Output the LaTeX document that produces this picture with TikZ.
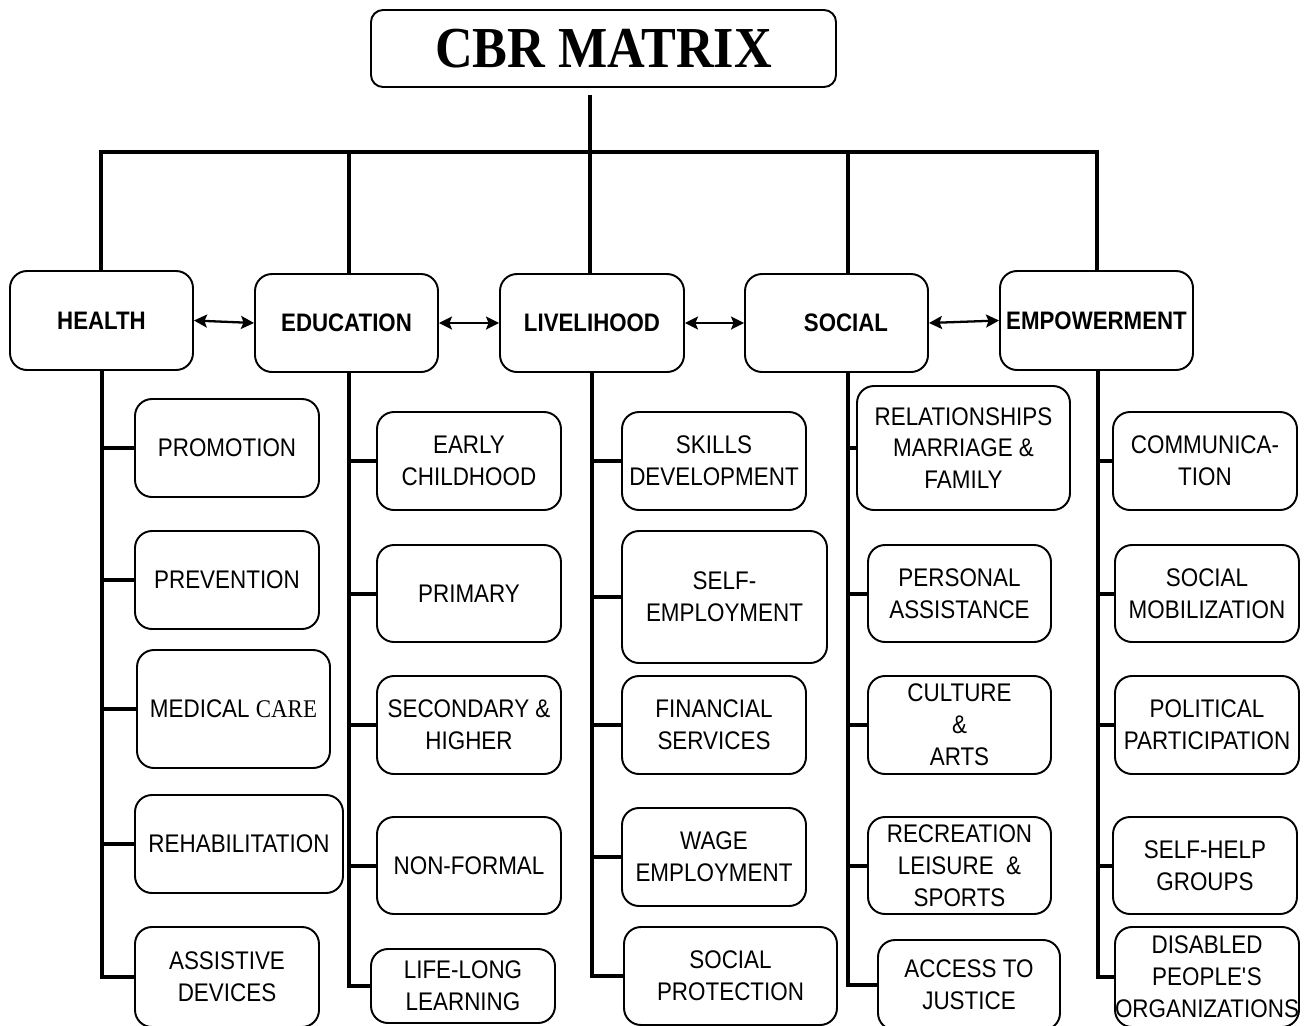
\documentclass[tikz,border=0pt]{standalone}
\usepackage{fontspec}
\setmainfont{Liberation Sans}[FakeStretch=0.88]
\newfontfamily\timesfont{Liberation Serif}[FakeStretch=0.9]
\usetikzlibrary{arrows.meta}
\begin{document}
\begin{tikzpicture}[x=0.02cm,y=-0.02cm,
  box/.style={draw, line width=1.1pt, rounded corners=0.34cm, inner sep=0pt, align=center, font=\fontsize{14.5}{18.1}\selectfont},
  sz/.style 2 args={minimum width=#1*0.02cm, minimum height=#2*0.02cm},
  mainbox/.style={box, font=\fontsize{14.4}{18.1}\selectfont\bfseries},
  conn/.style={line width=0.08cm, line join=miter},
  dbl/.style={line width=1.3pt, {Stealth[length=0.26cm,width=0.26cm,inset=0.05cm]}-{Stealth[length=0.26cm,width=0.26cm,inset=0.05cm]}},
]
\useasboundingbox (0,0) rectangle (1309,1025);
\clip (0,0) rectangle (1309,1025);

% title
\node[box, rounded corners=0.24cm, sz={465}{77}, font=\fontsize{33}{35}\selectfont\timesfont\bfseries] (title) at (603.5,48.5) {CBR MATRIX};

% main boxes
\node[mainbox, sz={183}{99}] (health) at (101.5,320.5) {HEALTH};
\node[mainbox, sz={183}{98}] (edu) at (346.5,323) {EDUCATION};
\node[mainbox, sz={184}{98}] (live) at (592,323) {LIVELIHOOD};
\node[mainbox, sz={183}{98}] (social) at (836.5,323) {\hspace{0.38cm}SOCIAL};
\node[mainbox, sz={193}{99}] (emp) at (1096.5,320.5) {EMPOWERMENT};

% health
\node[box, sz={184}{98}] (promo) at (227,448) {PROMOTION};
\node[box, sz={184}{98}] (prev) at (227,580) {PREVENTION};
\node[box, sz={193}{118}] (med) at (233.5,709) {MEDICAL {\timesfont CARE}};
\node[box, sz={208}{98}] (rehab) at (239,844) {REHABILITATION};
\node[box, sz={184}{100}] (assist) at (227,977) {ASSISTIVE\\DEVICES};

% education
\node[box, sz={184}{98}] (early) at (469,461) {EARLY\\CHILDHOOD};
\node[box, sz={184}{97}] (primary) at (469,593.5) {PRIMARY};
\node[box, sz={184}{98}] (second) at (469,725) {SECONDARY \&\\HIGHER};
\node[box, sz={184}{97}] (nonformal) at (469,865.5) {NON-FORMAL};
\node[box, sz={184}{74}] (lifelong) at (463,986) {LIFE-LONG\\LEARNING};

% livelihood
\node[box, sz={184}{98}] (skills) at (714,461) {SKILLS\\DEVELOPMENT};
\node[box, sz={205}{132}] (selfemp) at (724.5,597) {SELF-\\EMPLOYMENT};
\node[box, sz={184}{98}] (fin) at (714,725) {FINANCIAL\\SERVICES};
\node[box, sz={184}{98}] (wage) at (714,857) {WAGE\\EMPLOYMENT};
\node[box, sz={213}{98}] (socprot) at (730.5,976) {SOCIAL\\PROTECTION};

% social
\node[box, sz={213}{124}] (rel) at (963.5,448) {RELATIONSHIPS\\MARRIAGE \&\\FAMILY};
\node[box, sz={183}{97}] (pers) at (959.5,593.5) {PERSONAL\\ASSISTANCE};
\node[box, sz={183}{98}] (cult) at (959.5,725) {CULTURE\\\&\\ARTS};
\node[box, sz={183}{97}] (recr) at (959.5,865.5) {RECREATION\\LEISURE\ \ \&\\SPORTS};
\node[box, sz={182}{90}] (access) at (969,985) {ACCESS TO\\JUSTICE};

% empowerment
\node[box, sz={184}{98}] (comm) at (1205,461) {COMMUNICA-\\TION};
\node[box, sz={184}{97}] (mob) at (1207,593.5) {SOCIAL\\MOBILIZATION};
\node[box, sz={184}{98}] (pol) at (1207,725) {POLITICAL\\PARTICIPATION};
\node[box, sz={184}{97}] (selfhelp) at (1205,865.5) {SELF-HELP\\GROUPS};
\node[box, sz={184}{100}] (dpo) at (1207,977) {DISABLED\\PEOPLE\textquotesingle S\\ORGANIZATIONS};

% top tree
\coordinate (stemtop) at (590,95);
\coordinate (jH) at (101,152);
\coordinate (jE) at (349,152);
\coordinate (jL) at (590,152);
\coordinate (jS) at (848,152);
\coordinate (jM) at (1097,152);
\draw[line width=0.065cm] (stemtop) -- (jL);
\draw[conn] (jH |- health.north) -- (jH) -- (jM) -- (jM |- emp.north);
\draw[conn] (jE) -- (jE |- edu.north);
\draw[conn] (jL) -- (jL |- live.north);
\draw[conn] (jS) -- (jS |- social.north);

% arrows between main boxes
\draw[dbl] (health.east) -- (edu.west);
\draw[dbl] (edu.east) -- (live.west);
\draw[dbl] (live.east) -- (social.west);
\draw[dbl] (social.east) -- (emp.west);

% spines
\coordinate (sH) at (102,0);
\coordinate (sE) at (349,0);
\coordinate (sL) at (592,0);
\coordinate (sS) at (848,0);
\coordinate (sM) at (1098,0);

\draw[conn] (sH |- health.south) -- (sH |- assist.west) -- (assist.west);
\foreach \n in {promo,prev,med,rehab} \draw[conn] (sH |- \n.west) -- (\n.west);

\draw[conn] (sE |- edu.south) -- (sE |- lifelong.west) -- (lifelong.west);
\foreach \n in {early,primary,second,nonformal} \draw[conn] (sE |- \n.west) -- (\n.west);

\draw[conn] (sL |- live.south) -- (sL |- socprot.west) -- (socprot.west);
\foreach \n in {skills,selfemp,fin,wage} \draw[conn] (sL |- \n.west) -- (\n.west);

\draw[conn] (sS |- social.south) -- (sS |- access.west) -- (access.west);
\foreach \n in {rel,pers,cult,recr} \draw[conn] (sS |- \n.west) -- (\n.west);

\draw[conn] (sM |- emp.south) -- (sM |- dpo.west) -- (dpo.west);
\foreach \n in {comm,mob,pol,selfhelp} \draw[conn] (sM |- \n.west) -- (\n.west);
\end{tikzpicture}
\end{document}
